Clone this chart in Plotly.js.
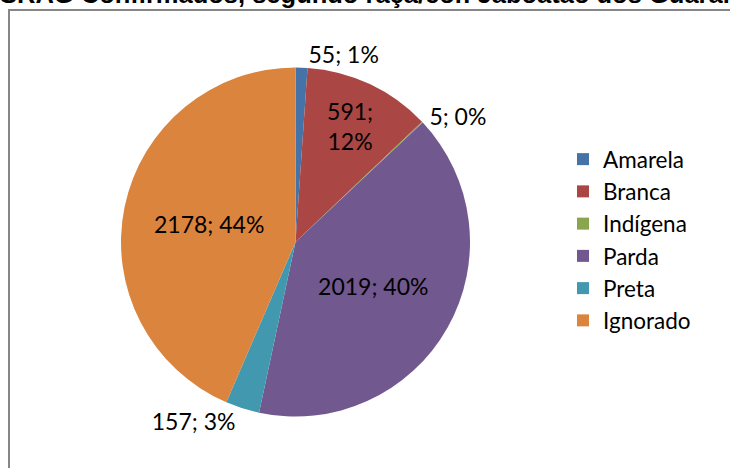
<!DOCTYPE html>
<html>
<head>
<meta charset="utf-8">
<script src="https://cdn.plot.ly/plotly-3.0.1.min.js"></script>
<style>html,body{margin:0;padding:0;background:#fff;}#chart{width:730px;height:468px;}</style>
</head>
<body>
<div id="chart"></div>
<script>
const categories = ['Amarela', 'Branca', 'Indígena', 'Parda', 'Preta', 'Ignorado'];
const counts = [55, 591, 5, 2019, 157, 2178];
const sliceColors = ['#4572A7', '#AA4643', '#89A54E', '#71588F', '#4198AF', '#DB843D'];
const labelPlacement = ['outside', 'inside', 'outside', 'inside', 'outside', 'inside'];
const labelTemplates = ['%{value}; %{percent:.0%}', '%{value};<br>%{percent:.0%}', '%{value}; %{percent:.0%}',
  '%{value}; %{percent:.0%}', '%{value}; %{percent:.0%}', '%{value}; %{percent:.0%}'];
const titleText = 'SRAG Confirmados, segundo raça/cor. Jaboatão dos Guararapes';

const W = 730, H = 468;
const trace = {
  type: 'pie',
  labels: categories,
  values: counts,
  sort: false,
  direction: 'clockwise',
  rotation: 0,
  marker: {colors: sliceColors, line: {width: 0}},
  textposition: labelPlacement,
  texttemplate: labelTemplates,
  insidetextorientation: 'horizontal',
  textfont: {family: 'Lato, sans-serif', size: 23, color: '#000'},
  insidetextfont: {family: 'Lato, sans-serif', size: 23, color: '#000'},
  outsidetextfont: {family: 'Lato, sans-serif', size: 23, color: '#000'},
  hoverinfo: 'none',
  domain: {x: [121 / W, 470 / W], y: [(H - 416.5) / H, (H - 67.5) / H]}
};

const layout = {
  width: W, height: H,
  margin: {l: 0, r: 0, t: 0, b: 0},
  paper_bgcolor: '#fff',
  plot_bgcolor: '#fff',
  showlegend: true,
  legend: {
    x: 563 / W, xanchor: 'left',
    y: (H - 240) / H, yanchor: 'middle',
    font: {family: 'Lato, sans-serif', size: 22.5, color: '#000'},
    tracegroupgap: 0
  },
  shapes: [{
    type: 'rect', xref: 'paper', yref: 'paper',
    x0: 9 / W, x1: 1.05, y0: -0.05, y1: (H - 10) / H,
    line: {color: '#868686', width: 2}, fillcolor: 'rgba(0,0,0,0)'
  }],
  annotations: [{
    xref: 'paper', yref: 'paper',
    x: -2 / W, xanchor: 'left',
    y: (H - 10) / H, yanchor: 'bottom',
    text: '<b>' + titleText + '</b>',
    showarrow: false,
    font: {family: 'Liberation Sans, Arial, sans-serif', size: 25.5, color: '#000'}
  }]
};

Plotly.newPlot('chart', [trace], layout, {displayModeBar: false, staticPlot: true});
</script>
</body>
</html>
